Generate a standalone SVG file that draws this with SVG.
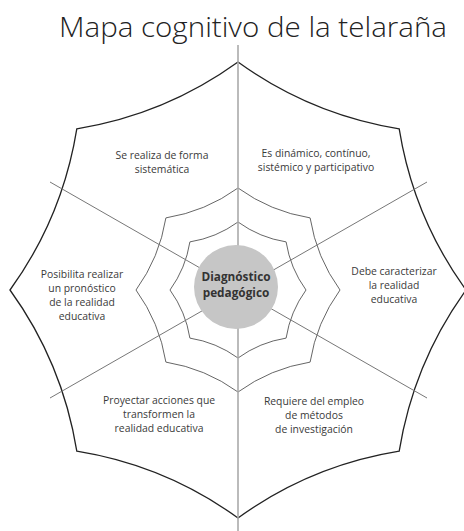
<svg xmlns="http://www.w3.org/2000/svg" width="464" height="531" viewBox="0 0 464 531">
<style>
.title{font-family:"Open Sans","Noto Sans",sans-serif;font-weight:300;font-size:27px;fill:#222}
.lbl{font-family:"Open Sans","Noto Sans",sans-serif;font-size:10.4px;fill:#3a3a3a;text-anchor:middle}
.ctr{font-family:"Open Sans","Noto Sans",sans-serif;font-weight:700;font-size:11.8px;fill:#333;text-anchor:middle}
.outer{fill:none;stroke:#222;stroke-width:1.3;stroke-linejoin:miter}
.ring{fill:none;stroke:#555;stroke-width:0.9}
.ray{stroke:#777;stroke-width:1}
.axis{stroke:#aaa;stroke-width:1.6}
</style>
<rect width="464" height="531" fill="#fff"/>
<text class="title" x="253" y="37" text-anchor="middle" textLength="388" lengthAdjust="spacingAndGlyphs">Mapa cognitivo de la telaraña</text>
<g id="web">
<path class="outer" d="M238,62 Q310.7,114.5 399.2,128.8 Q413.5,217.3 466,290 Q413.5,362.7 399.2,451.2 Q310.7,465.5 238,518 Q165.3,465.5 76.8,451.2 Q62.5,362.7 10,290 Q62.5,217.3 76.8,128.8 Q165.3,114.5 238,62 Z"/>
<path class="ring" d="M238,188 Q270.5,211.5 310.1,217.9 Q316.5,257.5 340,290 Q316.5,322.5 310.1,362.1 Q270.5,368.5 238,392 Q205.5,368.5 165.9,362.1 Q159.5,322.5 136,290 Q159.5,257.5 165.9,217.9 Q205.5,211.5 238,188 Z"/>
<path class="ring" d="M238,222 Q259.7,237.7 286.1,241.9 Q290.3,268.3 306,290 Q290.3,311.7 286.1,338.1 Q259.7,342.3 238,358 Q216.3,342.3 189.9,338.1 Q185.7,311.7 170,290 Q185.7,268.3 189.9,241.9 Q216.3,237.7 238,222 Z"/>
</g>
<g id="connectors">
<line class="axis" x1="238" y1="45" x2="238" y2="531"/>
<line class="ray" x1="50" y1="182" x2="427" y2="398"/>
<line class="ray" x1="50" y1="398" x2="427" y2="182"/>
</g>
<g id="center">
<circle cx="236" cy="287" r="42" fill="#c6c6c6"/>
<text class="ctr" x="236" y="281">Diagnóstico</text>
<text class="ctr" x="236" y="297">pedagógico</text>
</g>
<g id="n1">
<text class="lbl" x="162" y="159">Se realiza de forma</text>
<text class="lbl" x="162" y="173">sistemática</text>
</g>
<g id="n2">
<text class="lbl" x="316" y="157">Es dinámico, contínuo,</text>
<text class="lbl" x="316" y="171">sistémico y participativo</text>
</g>
<g id="n3">
<text class="lbl" x="394" y="275">Debe caracterizar</text>
<text class="lbl" x="394" y="289">la realidad</text>
<text class="lbl" x="394" y="303">educativa</text>
</g>
<g id="n4">
<text class="lbl" x="82" y="278">Posibilita realizar</text>
<text class="lbl" x="82" y="292">un pronóstico</text>
<text class="lbl" x="82" y="306">de la realidad</text>
<text class="lbl" x="82" y="320">educativa</text>
</g>
<g id="n5">
<text class="lbl" x="159" y="404">Proyectar acciones que</text>
<text class="lbl" x="159" y="418">transformen la</text>
<text class="lbl" x="159" y="432">realidad educativa</text>
</g>
<g id="n6">
<text class="lbl" x="314" y="405">Requiere del empleo</text>
<text class="lbl" x="314" y="419">de métodos</text>
<text class="lbl" x="314" y="433">de investigación</text>
</g>
</svg>
